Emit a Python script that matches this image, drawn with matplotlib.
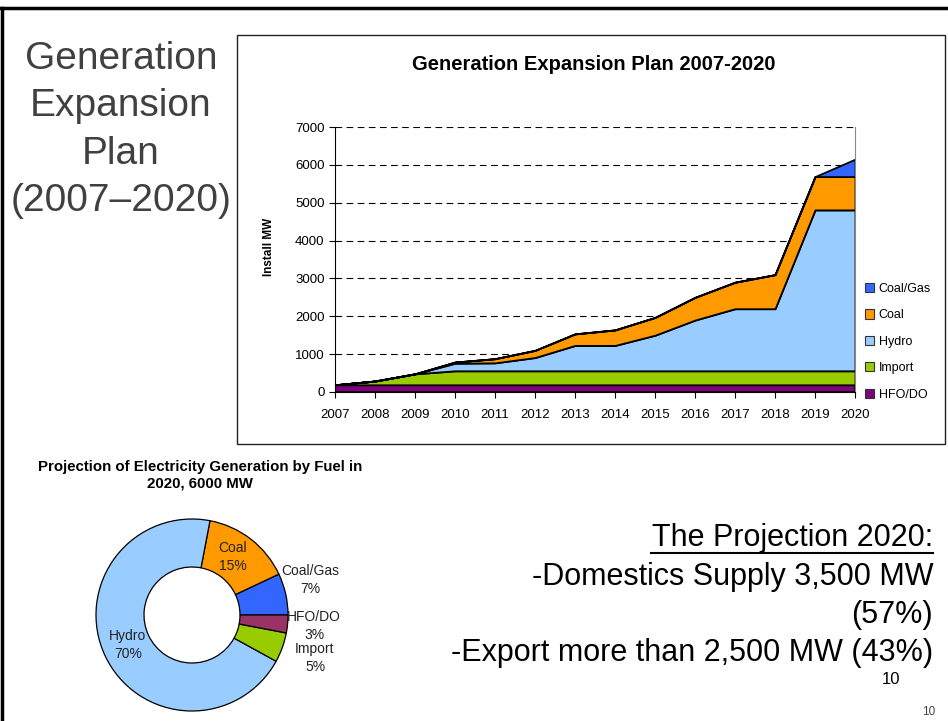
import matplotlib.pyplot as plt
from matplotlib.patches import Patch, Rectangle
from matplotlib.lines import Line2D

plt.rcParams["font.family"] = ["Liberation Sans", "DejaVu Sans"]

# installed capacity by fuel, MW (stacked)
years = list(range(2007, 2021))
hfo_do = [190, 190, 190, 190, 190, 190, 190, 190, 190, 190, 190, 190, 190, 190]
imports = [0, 100, 290, 370, 370, 370, 370, 370, 370, 370, 370, 370, 370, 370]
hydro = [0, 0, 0, 200, 210, 350, 670, 670, 940, 1340, 1640, 1640, 4250, 4250]
coal = [0, 0, 0, 30, 110, 190, 305, 410, 470, 600, 700, 900, 880, 880]
coal_gas = [0, 0, 0, 0, 0, 0, 0, 0, 0, 0, 0, 0, 0, 460]

series_names = ["HFO/DO", "Import", "Hydro", "Coal", "Coal/Gas"]
area_colors = ["#800080", "#99CC00", "#99CCFF", "#FF9900", "#3366FF"]

# 2020 fuel shares, %
pie_names = ["Coal/Gas", "Coal", "Hydro", "Import", "HFO/DO"]
pie_shares = [7, 15, 70, 5, 3]
pie_colors = ["#3366FF", "#FF9900", "#99CCFF", "#99CC00", "#993366"]

fig = plt.figure(figsize=(9.48, 7.21), dpi=100)
W, H = 948, 721


def fx(px):
    return px / W


def fy(py):
    return 1 - py / H


# slide frame
fig.add_artist(Line2D([0, 1], [fy(8), fy(8)], color="black", lw=2.5))
fig.add_artist(Line2D([fx(2), fx(2)], [fy(8), 0], color="black", lw=2.5))

# box round the area chart
fig.add_artist(Rectangle((fx(237), fy(444)), fx(945) - fx(237), fy(35) - fy(444),
                         fill=False, edgecolor="#222222", lw=1.0))

# slide heading
fig.text(fx(121), fy(130), "Generation\nExpansion\nPlan\n(2007\u20132020)",
         ha="center", va="center", fontsize=28, color="#404040", linespacing=1.41)

# stacked area chart
ax = fig.add_axes([fx(335), fy(392), fx(855) - fx(335), fy(127) - fy(392)])
ax.stackplot(years, hfo_do, imports, hydro, coal, coal_gas,
             colors=area_colors, edgecolor="black", linewidth=1.3)
ax.set_xlim(2007, 2020)
ax.set_ylim(0, 7000)
ax.set_xticks(years)
ax.set_yticks(range(0, 7001, 1000))
ax.tick_params(axis="both", labelsize=9.5, direction="out", length=4, width=0.8)
ax.tick_params(axis="x", pad=8)
ax.set_axisbelow(True)
ax.yaxis.grid(True, linestyle=(0, (6, 4)), color="black", lw=0.8)
ax.spines["top"].set_visible(False)
ax.spines["right"].set_color("#888888")
ax.spines["left"].set_linewidth(0.8)
ax.spines["bottom"].set_linewidth(0.8)
ax.set_ylabel("Install MW", fontsize=8.5, fontweight="bold")
ax.yaxis.set_label_coords((275 - 335) / 520, (392 - 247) / 265)
fig.text(fx(594), fy(64), "Generation Expansion Plan 2007-2020",
         ha="center", va="center", fontsize=14.5, fontweight="bold")

handles = [Patch(facecolor=c, edgecolor="#333333", lw=0.8)
           for c in area_colors[::-1]]
fig.legend(handles, series_names[::-1], loc="upper left",
           bbox_to_anchor=(fx(860), fy(278)), frameon=False, fontsize=9,
           handlelength=0.75, handleheight=0.75, handletextpad=0.35,
           labelspacing=1.15, borderaxespad=0)

# donut chart
pax = fig.add_axes([fx(192 - 100), fy(615 + 100), 200 / W, 200 / H])
pax.pie(pie_shares, colors=pie_colors, startangle=0, counterclock=True,
        radius=0.96, wedgeprops=dict(width=0.48, edgecolor="black", lw=0.9))
pax.set_xlim(-1, 1)
pax.set_ylim(-1, 1)
pie_label_pos = [(1.18, 0.35), (0.41, 0.58), (-0.64, -0.30), (1.23, -0.43), (1.22, -0.11)]
for name, share, (lx, ly) in zip(pie_names, pie_shares, pie_label_pos):
    pax.text(lx, ly, f"{name}\n{share}%", ha="center", va="center",
             fontsize=10, color="#222222", linespacing=1.3, clip_on=False)

fig.text(fx(200), fy(475), "Projection of Electricity Generation by Fuel in\n2020, 6000 MW",
         ha="center", va="center", fontsize=10.8, fontweight="bold", linespacing=1.25)

# projection notes
fig.text(fx(933), fy(538), "The Projection 2020:", ha="right", va="center",
         fontsize=22)
fig.add_artist(Line2D([fx(651), fx(933)], [fy(553), fy(553)], color="black", lw=1.5))
fig.text(fx(933), fy(615), "-Domestics Supply 3,500 MW\n(57%)\n-Export more than 2,500 MW (43%)",
         ha="right", va="center", fontsize=22, linespacing=1.33)

fig.text(fx(891), fy(680), "10", ha="center", va="center", fontsize=12)
fig.text(fx(929), fy(712), "10", ha="center", va="center", fontsize=8.5, color="#444444")

fig.savefig("out.png", dpi=100)
